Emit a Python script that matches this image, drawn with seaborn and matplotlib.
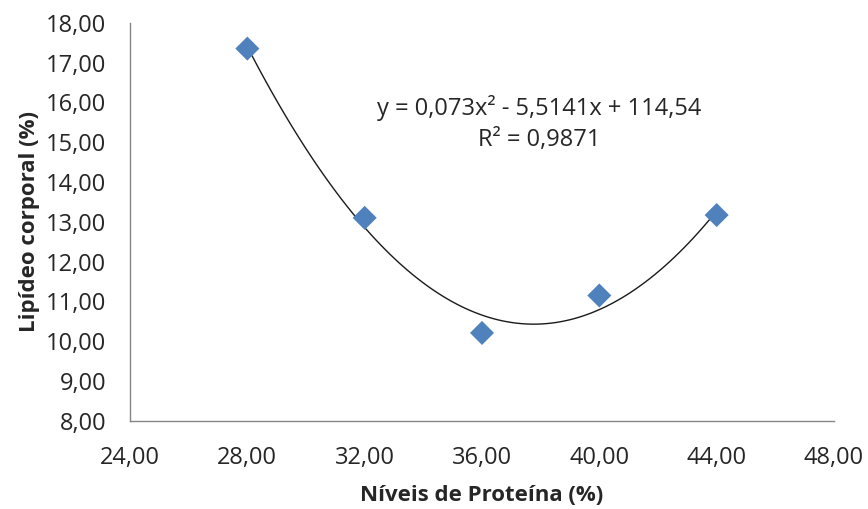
import matplotlib
matplotlib.use("Agg")
import matplotlib.pyplot as plt
from matplotlib.ticker import FuncFormatter, MultipleLocator
import seaborn as sns
import pandas as pd

# Data
proteina = [28, 32, 36, 40, 44]
lipideo = [17.35, 13.10, 10.21, 11.15, 13.17]
equation_text = "y = 0,073x² - 5,5141x + 114,54"
r2_text = "R² = 0,9871"
x_label = "Níveis de Proteína (%)"
y_label = "Lipídeo corporal (%)"

df = pd.DataFrame({"x": proteina, "y": lipideo})

sns.set_style("white")
plt.rcParams['font.family'] = ['Open Sans', 'DejaVu Sans']

fig = plt.figure(figsize=(8.68, 5.09), dpi=100)
ax = fig.add_axes([0.1498, 0.173, 0.811, 0.7824])

sns.regplot(data=df, x="x", y="y", order=2, ci=None, scatter=False,
            truncate=True, line_kws=dict(color="#1a1a1a", lw=1.0), ax=ax)
sns.scatterplot(data=df, x="x", y="y", marker="D", s=150, color="#4F81BD",
                edgecolor="none", ax=ax, zorder=3)

ax.set_xlim(24, 48)
ax.set_ylim(8, 18)
ax.xaxis.set_major_locator(MultipleLocator(4))
ax.yaxis.set_major_locator(MultipleLocator(1))
fmt = FuncFormatter(lambda v, p: f"{v:.2f}".replace(".", ","))
ax.xaxis.set_major_formatter(fmt)
ax.yaxis.set_major_formatter(fmt)

for s in ["top", "right"]:
    ax.spines[s].set_visible(False)
for s in ["left", "bottom"]:
    ax.spines[s].set_color("#868686")
    ax.spines[s].set_linewidth(1.0)
ax.tick_params(axis="both", which="major", direction="out", length=7,
               width=1.0, color="#868686", labelsize=17, labelcolor="#262626")
ax.tick_params(axis="x", pad=11)
ax.tick_params(axis="y", pad=10)

ax.set_xlabel(x_label, fontsize=16, fontweight="bold", color="#262626", labelpad=11)
ax.set_ylabel(y_label, fontsize=16, fontweight="bold", color="#262626", labelpad=4)

ax.text(37.95, 15.86, equation_text, ha="center", va="center", fontsize=17, color="#262626")
ax.text(37.95, 15.06, r2_text, ha="center", va="center", fontsize=17, color="#262626")

fig.savefig("out.png", dpi=100)
